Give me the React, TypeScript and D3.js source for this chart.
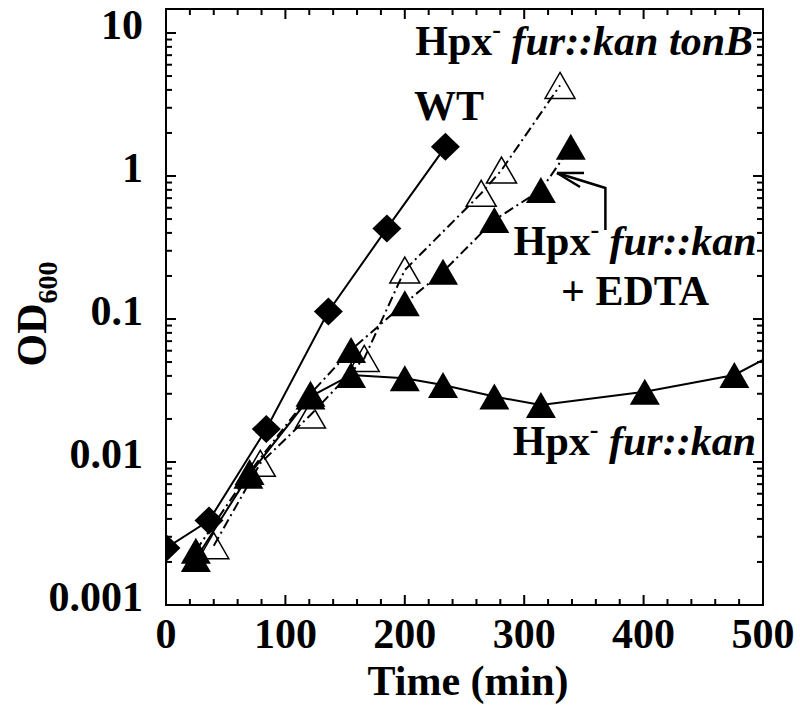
import React from "react";
import * as d3 from "d3";

const wtTime = [0, 36, 84, 136, 185, 234];
const wtOD = [0.0025, 0.0039, 0.017, 0.113, 0.43, 1.6];

const furTime = [25, 69, 121, 155, 200, 232, 275, 314, 401, 476, 530];
const furOD = [0.0021, 0.008, 0.0287, 0.0406, 0.0385, 0.0345, 0.0287, 0.025, 0.031, 0.0406, 0.07];

const edtaTime = [25, 70, 121, 155, 200, 232, 275, 314, 339];
const edtaOD = [0.0024, 0.0085, 0.03, 0.0607, 0.129, 0.214, 0.492, 0.798, 1.6];

const tonTime = [40, 79, 121, 166, 200, 264, 281, 330];
const tonOD = [0.0026, 0.0098, 0.0213, 0.053, 0.22, 0.757, 1.1, 4.3];

const xMajor = [0, 100, 200, 300, 400, 500];
const xTickLabels = ["0", "100", "200", "300", "400", "500"];
const yMajor = [0.001, 0.01, 0.1, 1, 10];
const yTickLabels = ["0.001", "0.01", "0.1", "1", "10"];

// arrow annotation in data space: tip, knee, tail
const arrowTime = [327.5, 368, 368];
const arrowOD = [1.05, 0.824, 0.42];

const FONT = "'Liberation Serif', 'Times New Roman', serif";

export default function App() {
  const L = 166, R = 763, T = 9, B = 605;
  const x = d3.scaleLinear().domain([0, 500]).range([L, R]);
  const y = d3.scaleLog().domain([0.001, 10]).range([B, 33]);

  const xMinor = d3.range(0, 501, 20).filter((v) => v % 100 !== 0);
  const yMinor: number[] = [];
  [0.001, 0.01, 0.1, 1].forEach((d) => {
    for (let k = 2; k <= 9; k++) yMinor.push(k * d);
  });

  const line = (ts: number[], vs: number[]) =>
    d3.line<number>().x((_, i) => x(ts[i])).y((v) => y(v))(vs) || "";

  const tri = (cx: number, cy: number) =>
    `M${cx},${cy - 13}L${cx + 15},${cy + 13}L${cx - 15},${cy + 13}Z`;
  const dia = (cx: number, cy: number) =>
    `M${cx},${cy - 14}L${cx + 14.5},${cy}L${cx},${cy + 14}L${cx - 14.5},${cy}Z`;

  const ax = arrowTime.map((t) => x(t));
  const ay = arrowOD.map((v) => y(v));

  return (
    <svg width={800} height={714} style={{ position: "absolute", left: 0, top: 0 }} fontFamily={FONT}>
      <defs>
        <clipPath id="plot">
          <rect x={L} y={T} width={R - L} height={B - T} />
        </clipPath>
      </defs>
      <rect x={0} y={0} width={800} height={714} fill="white" />

      {/* ticks */}
      <g stroke="black" strokeWidth={2}>
        {xMajor.map((v) => (
          <g key={"xM" + v}>
            <line x1={x(v)} x2={x(v)} y1={B} y2={B - 10} />
            <line x1={x(v)} x2={x(v)} y1={T} y2={T + 10} />
          </g>
        ))}
        {xMinor.map((v) => (
          <g key={"xm" + v}>
            <line x1={x(v)} x2={x(v)} y1={B} y2={B - 6} />
            <line x1={x(v)} x2={x(v)} y1={T} y2={T + 6} />
          </g>
        ))}
        {yMajor.map((v) => (
          <g key={"yM" + v}>
            <line x1={L} x2={L + 10} y1={y(v)} y2={y(v)} />
            <line x1={R} x2={R - 10} y1={y(v)} y2={y(v)} />
          </g>
        ))}
        {yMinor.map((v) => (
          <g key={"ym" + v}>
            <line x1={L} x2={L + 6} y1={y(v)} y2={y(v)} />
            <line x1={R} x2={R - 6} y1={y(v)} y2={y(v)} />
          </g>
        ))}
      </g>

      {/* data */}
      <g clipPath="url(#plot)" fill="none" stroke="black" strokeWidth={2}>
        <path d={line(wtTime, wtOD)} />
        <path d={line(furTime, furOD)} />
        <path d={line(edtaTime, edtaOD)} strokeDasharray="10,4,2,4" />
        <path d={line(tonTime, tonOD)} strokeDasharray="10,4,2,4" />
      </g>
      <g clipPath="url(#plot)">
        {wtTime.map((t, i) => (
          <path key={"w" + i} d={dia(x(t), y(wtOD[i]))} fill="black" />
        ))}
        {furTime.map((t, i) => (
          <path key={"f" + i} d={tri(x(t), y(furOD[i]))} fill="black" />
        ))}
        {edtaTime.map((t, i) => (
          <path key={"e" + i} d={tri(x(t), y(edtaOD[i]))} fill="black" />
        ))}
        {tonTime.map((t, i) => (
          <path key={"o" + i} d={tri(x(t), y(tonOD[i]))} fill="none" stroke="black" strokeWidth={1.5} />
        ))}
      </g>

      {/* arrow */}
      <g stroke="black" strokeWidth={2.5} fill="none">
        <polyline points={`${ax[2]},${ay[2]} ${ax[1]},${ay[1]} ${ax[0]},${ay[0]}`} />
        <line x1={ax[0]} y1={ay[0]} x2={ax[0] + 27} y2={ay[0]} />
        <line x1={ax[0]} y1={ay[0]} x2={ax[0] + 23} y2={ay[0] + 14} />
      </g>

      {/* frame */}
      <rect x={L} y={T} width={R - L} height={B - T} fill="none" stroke="black" strokeWidth={2} />

      {/* tick labels */}
      <g fontSize={42} fontWeight="bold">
        {xMajor.map((v, i) => (
          <text key={"xl" + v} x={x(v)} y={648} textAnchor="middle">
            {xTickLabels[i]}
          </text>
        ))}
        {yMajor.map((v, i) => (
          <text key={"yl" + v} x={143} y={y(v) + 6} textAnchor="end">
            {yTickLabels[i]}
          </text>
        ))}
      </g>

      {/* axis titles */}
      <text x={468} y={695} textAnchor="middle" fontSize={42} fontWeight="bold">
        Time (min)
      </text>
      <text transform="translate(46,314) rotate(-90)" textAnchor="middle" fontSize={42} fontWeight="bold">
        OD<tspan fontSize={28} dy={11}>600</tspan>
      </text>

      {/* series labels */}
      <g fontSize={42} fontWeight="bold">
        <text x={449} y={120} textAnchor="middle">WT</text>
        <text x={753} y={55} textAnchor="end">
          Hpx<tspan fontSize={26} dy={-17}>-</tspan>
          <tspan dy={17} fontStyle="italic"> fur::kan tonB</tspan>
        </text>
        <text x={635} y={255} textAnchor="middle">
          Hpx<tspan fontSize={26} dy={-17}>-</tspan>
          <tspan dy={17} fontStyle="italic"> fur::kan</tspan>
        </text>
        <text x={635} y={305} textAnchor="middle">+ EDTA</text>
        <text x={756} y={455} textAnchor="end">
          Hpx<tspan fontSize={26} dy={-17}>-</tspan>
          <tspan dy={17} fontStyle="italic"> fur::kan</tspan>
        </text>
      </g>
    </svg>
  );
}
